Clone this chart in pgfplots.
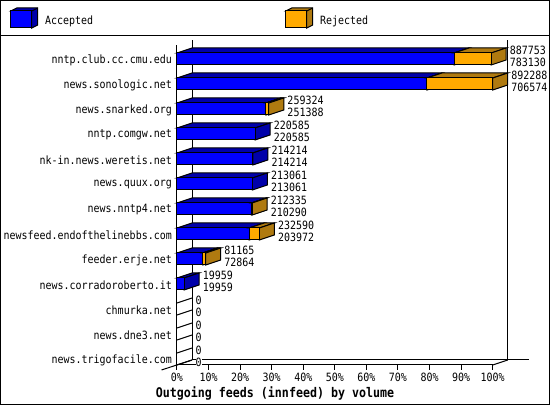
\documentclass[border=0pt]{standalone}
\usepackage{fontspec}
\setmainfont[FakeStretch=0.875]{DejaVu Sans Mono}
\usepackage{pgfplots}
\pgfplotsset{compat=1.18}
\definecolor{acc}{HTML}{0000FF}
\definecolor{accdark}{HTML}{0000AA}
\definecolor{rej}{HTML}{FFAA00}
\definecolor{rejdark}{HTML}{AF7A10}
% depth of the 3d effect: 15 px in value units
\newcommand\depth{42423}
\newcommand\cube[5]{% x0, x1, top, front colour, dark colour
  \edef\xa{\the\numexpr#1+\depth\relax}%
  \edef\xb{\the\numexpr#2+\depth\relax}%
  \edef\yt{\the\numexpr#3+5\relax}%
  \edef\yf{\the\numexpr#3-12\relax}%
  \edef\yb{\the\numexpr#3-7\relax}%
  \addplot[draw=black,fill=#5] coordinates {(#1,#3) (\xa,\yt) (\xb,\yt) (#2,#3)} --cycle;
  \addplot[draw=black,fill=#5] coordinates {(#2,#3) (\xb,\yt) (\xb,\yb) (#2,\yf)} --cycle;
  \addplot[draw=black,fill=#4] coordinates {(#1,#3) (#2,#3) (#2,\yf) (#1,\yf)} --cycle;
}
\newcommand\stub[1]{% a row with no traffic: only the edges going back
  \edef\yt{\the\numexpr#1+5\relax}%
  \edef\yf{\the\numexpr#1-12\relax}%
  \edef\yb{\the\numexpr#1-7\relax}%
  \addplot[draw=black] coordinates {(0,#1) (\depth,\yt)};
  \addplot[draw=black] coordinates {(0,\yf) (\depth,\yb)};
}
\newcommand\feed[3]{% top, accepted, offered
  \ifnum#3=0 \stub{#1}\else \cube{0}{#2}{#1}{acc}{accdark}\fi
  \ifnum#3>#2 \cube{#2}{#3}{#1}{rej}{rejdark}\fi
  \edef\lx{\the\numexpr#3+\depth+10000\relax}%
  \edef\ly{\the\numexpr#1+2\relax}%
  \edef\lz{\the\numexpr#1-10\relax}%
  \edef\tmp{\noexpand\node[lab] at (axis cs:\lx,\ly) {#3};
    \noexpand\node[lab] at (axis cs:\lx,\lz) {#2};}%
  \tmp
}
\newcommand\swatch[5]{% x, top, front colour, dark colour, text
  \draw[fill=#4] (#1pt,#2pt) -- ++(6pt,3pt) -- ++(21pt,0) -- ++(0,-17pt) -- ++(-6pt,-3pt) -- ++(0,17pt) -- cycle;
  \draw[fill=#3] (#1pt,#2pt) rectangle ++(21pt,-17pt);
  \draw (#1pt,#2pt) ++(21pt,0) -- ++(6pt,3pt);
  \node[anchor=west,inner sep=0pt] at (#1pt+34pt,#2pt-10pt) {#5};
}
\begin{document}
\fontsize{11.4}{13}\selectfont
\begin{tikzpicture}[line width=1pt,lab/.style={anchor=west,inner sep=0pt,fill=white,text height=8pt,text depth=0pt}]
\useasboundingbox (0,0) rectangle (550pt,405pt);
\draw (0.5pt,0.5pt) rectangle (549.5pt,404.5pt);
\draw (0.5pt,369.5pt) -- (549.5pt,369.5pt);
\swatch{10.7}{394}{acc}{accdark}{Accepted}
\swatch{285.7}{394}{rej}{rejdark}{Rejected}
% back walls and floor
\draw (192pt,45pt) -- (192pt,365pt);
\draw (507.7pt,45pt) -- (507.7pt,365pt);
\draw (192pt,45pt) -- (529pt,45pt);
\draw (161.5pt,35pt) -- (192pt,45pt);
\draw (492.7pt,40pt) -- (507.7pt,45pt);
\node[font=\fontsize{13.3}{15}\selectfont\bfseries] at (275pt,12pt) {Outgoing feeds (innfeed) by volume};
\begin{axis}[
  at={(177pt,40pt)},anchor=south west,
  scale only axis,width=315.7pt,height=320pt,
  clip=false,
  xmin=0,xmax=892288,ymin=40,ymax=360,
  axis x line=bottom,axis y line=left,
  axis line style={line width=1pt,-},
  every axis plot/.append style={line width=1pt},
  tick align=outside,major tick length=5pt,
  x tick style={black,line width=1pt},
  y tick style={draw=none},
  scaled x ticks=false,
  xtick={0,89228.8,178457.6,267686.4,356915.2,446144,535372.8,624601.6,713830.4,803059.2,892288},
  xticklabels={0\%,10\%,20\%,30\%,40\%,50\%,60\%,70\%,80\%,90\%,100\%},
  ytick={46,71,96,121,146,171,196,221,246,271,296,321,346},
  yticklabels={news.trigofacile.com,news.dne3.net,chmurka.net,news.corradoroberto.it,feeder.erje.net,newsfeed.endofthelinebbs.com,news.nntp4.net,news.quux.org,nk-in.news.weretis.net,nntp.comgw.net,news.snarked.org,news.sonologic.net,nntp.club.cc.cmu.edu},
  xticklabel style={inner sep=0pt,yshift=-3pt},
  yticklabel style={inner sep=0pt,yshift=-1pt},
]
\feed{352}{783130}{887753}
\feed{327}{706574}{892288}
\feed{302}{251388}{259324}
\feed{277}{220585}{220585}
\feed{252}{214214}{214214}
\feed{227}{213061}{213061}
\feed{202}{210290}{212335}
\feed{177}{203972}{232590}
\feed{152}{72864}{81165}
\feed{127}{19959}{19959}
\feed{102}{0}{0}
\feed{77}{0}{0}
\feed{52}{0}{0}
\end{axis}
\end{tikzpicture}
\end{document}
